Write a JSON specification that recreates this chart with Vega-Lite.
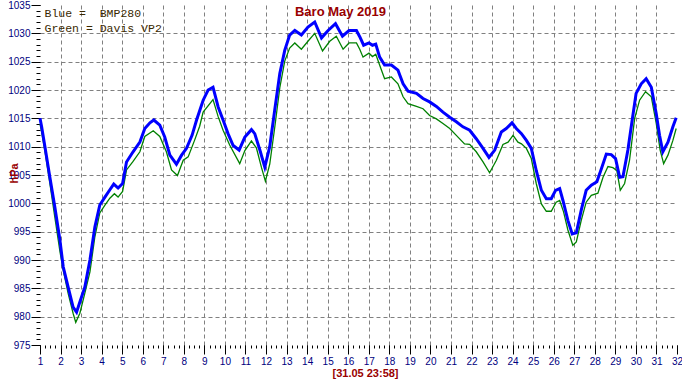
{
  "$schema": "https://vega.github.io/schema/vega-lite/v6.json",
  "width": 637,
  "height": 340,
  "autosize": "none",
  "padding": {"left": 40, "top": 5, "right": 5, "bottom": 35},
  "background": "white",
  "config": {"view": {"stroke": null}, "axis": {"domain": false, "labelFlush": false}},
  "title": {"text": "Baro May 2019", "font": "Liberation Sans", "fontSize": 13, "fontWeight": "bold", "color": "#990000", "anchor": "middle", "frame": "group", "offset": -19, "dx": -18},
  "datasets": {
    "bmp": [
      {"day": 1.0, "hPa": 1015.0}, {"day": 1.08, "hPa": 1013.5}, {"day": 1.24, "hPa": 1010.0}, {"day": 1.48, "hPa": 1004.6}, {"day": 1.72, "hPa": 999.4}, {"day": 1.97, "hPa": 993.5}, {"day": 2.13, "hPa": 988.8}, {"day": 2.37, "hPa": 985.2}, {"day": 2.61, "hPa": 981.7}, {"day": 2.78, "hPa": 980.8}, {"day": 2.94, "hPa": 982.6}, {"day": 3.18, "hPa": 985.2}, {"day": 3.43, "hPa": 990.0}, {"day": 3.67, "hPa": 995.8}, {"day": 3.91, "hPa": 999.7}, {"day": 4.16, "hPa": 1001.1}, {"day": 4.40, "hPa": 1002.4}, {"day": 4.59, "hPa": 1003.4}, {"day": 4.80, "hPa": 1002.7}, {"day": 5.02, "hPa": 1003.5}, {"day": 5.21, "hPa": 1007.3}, {"day": 5.53, "hPa": 1009.1}, {"day": 5.86, "hPa": 1010.8}, {"day": 6.10, "hPa": 1013.2}, {"day": 6.35, "hPa": 1014.2}, {"day": 6.54, "hPa": 1014.7}, {"day": 6.83, "hPa": 1013.8}, {"day": 7.07, "hPa": 1011.7}, {"day": 7.32, "hPa": 1008.5}, {"day": 7.64, "hPa": 1006.9}, {"day": 7.89, "hPa": 1008.5}, {"day": 8.13, "hPa": 1009.7}, {"day": 8.40, "hPa": 1012.0}, {"day": 8.62, "hPa": 1014.7}, {"day": 8.94, "hPa": 1018.2}, {"day": 9.18, "hPa": 1020.0}, {"day": 9.42, "hPa": 1020.5}, {"day": 9.67, "hPa": 1017.0}, {"day": 9.91, "hPa": 1014.7}, {"day": 10.15, "hPa": 1012.3}, {"day": 10.40, "hPa": 1010.2}, {"day": 10.69, "hPa": 1009.4}, {"day": 10.97, "hPa": 1011.7}, {"day": 11.29, "hPa": 1013.0}, {"day": 11.45, "hPa": 1012.3}, {"day": 11.70, "hPa": 1009.4}, {"day": 11.94, "hPa": 1006.4}, {"day": 12.18, "hPa": 1010.0}, {"day": 12.42, "hPa": 1016.4}, {"day": 12.67, "hPa": 1022.9}, {"day": 12.91, "hPa": 1027.0}, {"day": 13.15, "hPa": 1029.7}, {"day": 13.40, "hPa": 1030.5}, {"day": 13.72, "hPa": 1029.7}, {"day": 14.04, "hPa": 1031.1}, {"day": 14.37, "hPa": 1032.0}, {"day": 14.70, "hPa": 1029.2}, {"day": 15.02, "hPa": 1030.5}, {"day": 15.38, "hPa": 1031.7}, {"day": 15.72, "hPa": 1029.5}, {"day": 16.04, "hPa": 1030.5}, {"day": 16.40, "hPa": 1030.5}, {"day": 16.56, "hPa": 1029.4}, {"day": 16.75, "hPa": 1027.9}, {"day": 17.01, "hPa": 1028.3}, {"day": 17.18, "hPa": 1027.9}, {"day": 17.34, "hPa": 1028.1}, {"day": 17.53, "hPa": 1025.8}, {"day": 17.77, "hPa": 1024.4}, {"day": 18.10, "hPa": 1024.4}, {"day": 18.42, "hPa": 1023.5}, {"day": 18.67, "hPa": 1021.1}, {"day": 18.91, "hPa": 1019.8}, {"day": 19.32, "hPa": 1019.4}, {"day": 19.64, "hPa": 1018.5}, {"day": 19.96, "hPa": 1017.9}, {"day": 20.29, "hPa": 1017.1}, {"day": 20.61, "hPa": 1016.1}, {"day": 20.94, "hPa": 1015.2}, {"day": 21.26, "hPa": 1014.4}, {"day": 21.58, "hPa": 1013.5}, {"day": 21.91, "hPa": 1012.9}, {"day": 22.23, "hPa": 1011.4}, {"day": 22.56, "hPa": 1009.7}, {"day": 22.85, "hPa": 1008.1}, {"day": 23.13, "hPa": 1009.4}, {"day": 23.45, "hPa": 1012.6}, {"day": 23.69, "hPa": 1013.2}, {"day": 23.97, "hPa": 1014.2}, {"day": 24.18, "hPa": 1013.2}, {"day": 24.43, "hPa": 1012.3}, {"day": 24.67, "hPa": 1011.1}, {"day": 24.91, "hPa": 1009.7}, {"day": 25.15, "hPa": 1005.8}, {"day": 25.40, "hPa": 1002.3}, {"day": 25.64, "hPa": 1000.8}, {"day": 25.88, "hPa": 1000.8}, {"day": 26.09, "hPa": 1002.3}, {"day": 26.29, "hPa": 1002.6}, {"day": 26.45, "hPa": 1000.5}, {"day": 26.69, "hPa": 997.0}, {"day": 26.90, "hPa": 994.6}, {"day": 27.10, "hPa": 994.8}, {"day": 27.34, "hPa": 998.8}, {"day": 27.58, "hPa": 1002.3}, {"day": 27.83, "hPa": 1003.2}, {"day": 28.10, "hPa": 1003.8}, {"day": 28.32, "hPa": 1006.1}, {"day": 28.56, "hPa": 1008.7}, {"day": 28.80, "hPa": 1008.6}, {"day": 29.01, "hPa": 1007.9}, {"day": 29.21, "hPa": 1004.6}, {"day": 29.37, "hPa": 1004.7}, {"day": 29.61, "hPa": 1009.4}, {"day": 29.82, "hPa": 1014.7}, {"day": 30.01, "hPa": 1019.4}, {"day": 30.26, "hPa": 1021.1}, {"day": 30.50, "hPa": 1022.0}, {"day": 30.75, "hPa": 1020.5}, {"day": 30.99, "hPa": 1015.8}, {"day": 31.15, "hPa": 1012.0}, {"day": 31.31, "hPa": 1009.1}, {"day": 31.56, "hPa": 1010.8}, {"day": 31.80, "hPa": 1013.5}, {"day": 31.96, "hPa": 1015.1}
    ],
    "davis": [
      {"day": 1.0, "hPa": 1014.0}, {"day": 1.08, "hPa": 1012.5}, {"day": 1.24, "hPa": 1009.2}, {"day": 1.48, "hPa": 1003.5}, {"day": 1.72, "hPa": 997.6}, {"day": 1.97, "hPa": 991.5}, {"day": 2.13, "hPa": 988.2}, {"day": 2.37, "hPa": 984.1}, {"day": 2.61, "hPa": 980.6}, {"day": 2.74, "hPa": 979.0}, {"day": 2.94, "hPa": 980.6}, {"day": 3.18, "hPa": 984.1}, {"day": 3.43, "hPa": 987.9}, {"day": 3.67, "hPa": 994.1}, {"day": 3.91, "hPa": 998.3}, {"day": 4.16, "hPa": 999.7}, {"day": 4.40, "hPa": 1000.9}, {"day": 4.62, "hPa": 1001.7}, {"day": 4.80, "hPa": 1001.1}, {"day": 5.02, "hPa": 1002.1}, {"day": 5.21, "hPa": 1005.9}, {"day": 5.53, "hPa": 1007.4}, {"day": 5.86, "hPa": 1009.1}, {"day": 6.10, "hPa": 1011.8}, {"day": 6.51, "hPa": 1012.8}, {"day": 6.83, "hPa": 1011.8}, {"day": 7.15, "hPa": 1009.1}, {"day": 7.40, "hPa": 1005.9}, {"day": 7.69, "hPa": 1004.9}, {"day": 7.97, "hPa": 1007.6}, {"day": 8.21, "hPa": 1008.2}, {"day": 8.53, "hPa": 1011.2}, {"day": 8.77, "hPa": 1013.6}, {"day": 8.94, "hPa": 1016.1}, {"day": 9.42, "hPa": 1018.3}, {"day": 9.67, "hPa": 1015.3}, {"day": 9.91, "hPa": 1012.9}, {"day": 10.23, "hPa": 1010.3}, {"day": 10.72, "hPa": 1007.0}, {"day": 10.97, "hPa": 1009.3}, {"day": 11.29, "hPa": 1011.0}, {"day": 11.53, "hPa": 1009.8}, {"day": 11.78, "hPa": 1006.3}, {"day": 11.97, "hPa": 1003.9}, {"day": 12.18, "hPa": 1006.9}, {"day": 12.42, "hPa": 1013.3}, {"day": 12.67, "hPa": 1020.4}, {"day": 12.91, "hPa": 1025.1}, {"day": 13.15, "hPa": 1027.4}, {"day": 13.40, "hPa": 1028.3}, {"day": 13.72, "hPa": 1027.2}, {"day": 14.04, "hPa": 1028.6}, {"day": 14.37, "hPa": 1030.0}, {"day": 14.75, "hPa": 1026.9}, {"day": 15.10, "hPa": 1028.6}, {"day": 15.42, "hPa": 1029.5}, {"day": 15.75, "hPa": 1027.2}, {"day": 16.04, "hPa": 1028.3}, {"day": 16.40, "hPa": 1028.3}, {"day": 16.56, "hPa": 1027.2}, {"day": 16.72, "hPa": 1025.8}, {"day": 17.01, "hPa": 1026.5}, {"day": 17.18, "hPa": 1025.9}, {"day": 17.34, "hPa": 1026.3}, {"day": 17.62, "hPa": 1023.5}, {"day": 17.77, "hPa": 1022.0}, {"day": 18.10, "hPa": 1022.3}, {"day": 18.42, "hPa": 1021.1}, {"day": 18.67, "hPa": 1018.8}, {"day": 18.91, "hPa": 1017.6}, {"day": 19.32, "hPa": 1017.1}, {"day": 19.64, "hPa": 1016.7}, {"day": 19.96, "hPa": 1015.5}, {"day": 20.29, "hPa": 1014.9}, {"day": 20.61, "hPa": 1014.1}, {"day": 20.94, "hPa": 1013.2}, {"day": 21.26, "hPa": 1012.0}, {"day": 21.66, "hPa": 1010.5}, {"day": 21.91, "hPa": 1010.4}, {"day": 22.23, "hPa": 1009.1}, {"day": 22.56, "hPa": 1007.3}, {"day": 22.88, "hPa": 1005.4}, {"day": 23.21, "hPa": 1007.6}, {"day": 23.53, "hPa": 1010.4}, {"day": 23.78, "hPa": 1010.8}, {"day": 24.02, "hPa": 1012.0}, {"day": 24.26, "hPa": 1010.8}, {"day": 24.43, "hPa": 1010.5}, {"day": 24.67, "hPa": 1009.7}, {"day": 24.91, "hPa": 1007.9}, {"day": 25.15, "hPa": 1003.5}, {"day": 25.40, "hPa": 999.9}, {"day": 25.64, "hPa": 998.6}, {"day": 25.88, "hPa": 998.6}, {"day": 26.12, "hPa": 1000.2}, {"day": 26.29, "hPa": 1000.5}, {"day": 26.48, "hPa": 998.5}, {"day": 26.69, "hPa": 995.3}, {"day": 26.93, "hPa": 992.6}, {"day": 27.10, "hPa": 993.2}, {"day": 27.34, "hPa": 997.0}, {"day": 27.58, "hPa": 1000.2}, {"day": 27.83, "hPa": 1001.4}, {"day": 28.15, "hPa": 1001.8}, {"day": 28.40, "hPa": 1004.6}, {"day": 28.64, "hPa": 1006.5}, {"day": 28.88, "hPa": 1006.3}, {"day": 29.07, "hPa": 1005.8}, {"day": 29.24, "hPa": 1002.3}, {"day": 29.45, "hPa": 1003.5}, {"day": 29.69, "hPa": 1007.6}, {"day": 29.94, "hPa": 1015.0}, {"day": 30.18, "hPa": 1018.2}, {"day": 30.47, "hPa": 1019.7}, {"day": 30.75, "hPa": 1018.8}, {"day": 30.99, "hPa": 1014.1}, {"day": 31.18, "hPa": 1009.4}, {"day": 31.35, "hPa": 1007.0}, {"day": 31.56, "hPa": 1008.5}, {"day": 31.80, "hPa": 1011.1}, {"day": 31.96, "hPa": 1013.2}
    ]
  },
  "resolve": {"axis": {"x": "independent", "y": "independent"}},
  "layer": [
    {
      "mark": {"type": "rule", "color": "#008000", "strokeDash": [6, 4], "strokeWidth": 1.5},
      "encoding": {
        "x": {"datum": 32, "type": "quantitative", "scale": {"domain": [1, 32], "nice": false, "zero": false},
          "axis": {"orient": "bottom", "values": [2,3,4,5,6,7,8,9,10,11,12,13,14,15,16,17,18,19,20,21,22,23,24,25,26,27,28,29,30,31], "grid": true, "ticks": false, "labels": false, "domain": false, "title": null, "gridColor": "#808080", "gridDash": [4, 3], "gridWidth": 1, "gridOpacity": 1}},
        "y": {"datum": 975, "type": "quantitative", "scale": {"domain": [975, 1035], "nice": false, "zero": false},
          "axis": {"orient": "left", "values": [980,985,990,995,1000,1005,1010,1015,1020,1025,1030], "grid": true, "ticks": false, "labels": false, "domain": false, "title": null, "gridColor": "#808080", "gridDash": [4, 3], "gridWidth": 1, "gridOpacity": 1}},
        "y2": {"datum": 1035}
      }
    },
    {
      "data": {"name": "davis"},
      "mark": {"type": "line", "strokeWidth": 1.3},
      "encoding": {
        "x": {"field": "day", "type": "quantitative", "scale": {"domain": [1, 32], "nice": false, "zero": false},
          "axis": {"orient": "bottom", "values": [1,1.25,1.5,1.75,2,2.25,2.5,2.75,3,3.25,3.5,3.75,4,4.25,4.5,4.75,5,5.25,5.5,5.75,6,6.25,6.5,6.75,7,7.25,7.5,7.75,8,8.25,8.5,8.75,9,9.25,9.5,9.75,10,10.25,10.5,10.75,11,11.25,11.5,11.75,12,12.25,12.5,12.75,13,13.25,13.5,13.75,14,14.25,14.5,14.75,15,15.25,15.5,15.75,16,16.25,16.5,16.75,17,17.25,17.5,17.75,18,18.25,18.5,18.75,19,19.25,19.5,19.75,20,20.25,20.5,20.75,21,21.25,21.5,21.75,22,22.25,22.5,22.75,23,23.25,23.5,23.75,24,24.25,24.5,24.75,25,25.25,25.5,25.75,26,26.25,26.5,26.75,27,27.25,27.5,27.75,28,28.25,28.5,28.75,29,29.25,29.5,29.75,30,30.25,30.5,30.75,31,31.25,31.5,31.75,32], "grid": false, "labels": false, "domain": false, "title": null, "ticks": true, "tickSize": 3, "tickColor": "#000000", "tickWidth": 1}},
        "y": {"field": "hPa", "type": "quantitative", "scale": {"domain": [975, 1035], "nice": false, "zero": false},
          "axis": {"orient": "left", "values": [975,976,977,978,979,980,981,982,983,984,985,986,987,988,989,990,991,992,993,994,995,996,997,998,999,1000,1001,1002,1003,1004,1005,1006,1007,1008,1009,1010,1011,1012,1013,1014,1015,1016,1017,1018,1019,1020,1021,1022,1023,1024,1025,1026,1027,1028,1029,1030,1031,1032,1033,1034,1035], "grid": false, "labels": false, "domain": false, "title": null, "ticks": true, "tickSize": 4, "tickColor": "#000000", "tickWidth": 1}},
        "color": {"datum": "Davis VP2", "type": "nominal",
          "scale": {"domain": ["BMP280", "Davis VP2"], "range": ["#0000ff", "#008000"]},
          "legend": {"orient": "top-left", "offset": 0, "padding": 3, "title": null, "symbolSize": 0, "symbolStrokeWidth": 0, "symbolOpacity": 0, "labelOffset": -10, "labelFont": "Liberation Mono", "labelFontSize": 11.5, "labelColor": "#3a2800", "rowPadding": 2, "labelLimit": 300,
            "labelExpr": "datum.label == 'BMP280' ? 'Blue =\u00a0\u00a0BMP280' : 'Green = Davis VP2'"}}
      }
    },
    {
      "data": {"name": "bmp"},
      "mark": {"type": "line", "strokeWidth": 3},
      "encoding": {
        "x": {"field": "day", "type": "quantitative", "scale": {"domain": [1, 32], "nice": false, "zero": false},
          "axis": {"orient": "bottom", "values": [1,2,3,4,5,6,7,8,9,10,11,12,13,14,15,16,17,18,19,20,21,22,23,24,25,26,27,28,29,30,31,32], "format": "d", "grid": false, "domain": false, "ticks": true, "tickSize": 9, "tickColor": "#000000", "tickWidth": 1,
            "labelFont": "Liberation Sans Narrow, Arial Narrow, Liberation Sans", "labelFontSize": 10, "labelColor": "#000080", "labelPadding": 2,
            "title": "[31.05 23:58]", "titleFont": "Liberation Sans", "titleFontSize": 11, "titleFontWeight": "bold", "titleColor": "#990000", "titleX": 325, "titlePadding": 1}},
        "y": {"field": "hPa", "type": "quantitative", "scale": {"domain": [975, 1035], "nice": false, "zero": false},
          "axis": {"orient": "left", "values": [975,980,985,990,995,1000,1005,1010,1015,1020,1025,1030,1035], "format": "d", "grid": false, "domain": false, "ticks": true, "tickSize": 9, "tickColor": "#000000", "tickWidth": 1,
            "labelFont": "Liberation Sans Narrow, Arial Narrow, Liberation Sans", "labelFontSize": 10, "labelColor": "#000080", "labelPadding": 1,
            "title": "hPa", "titleFont": "Liberation Sans", "titleFontSize": 11, "titleFontWeight": "bold", "titleColor": "#990000", "titleAngle": 270, "titleX": -23, "titleY": 168, "titleAlign": "center", "titleBaseline": "alphabetic"}},
        "color": {"datum": "BMP280", "type": "nominal"}
      }
    }
  ]
}
